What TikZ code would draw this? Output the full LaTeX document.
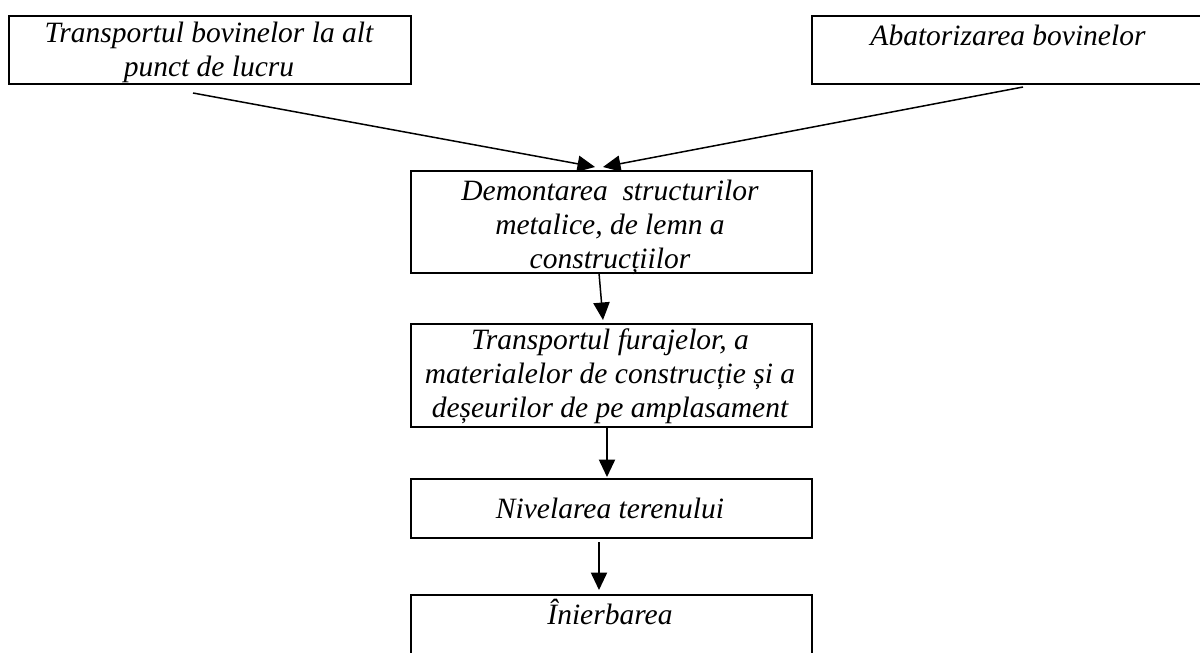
\documentclass[tikz,border=0pt]{standalone}
\usepackage{fontspec}
\setmainfont{Liberation Serif}
\usetikzlibrary{arrows.meta,calc}
\newcommand\pxu{0.4pt}
\tikzset{
  box/.style={draw, line width=0.8pt, rectangle, inner sep=0pt, anchor=north west},
  txt/.style={anchor=base, inner sep=0pt, align=center,
    font=\fontsize{11.8pt}{13.6pt}\selectfont\itshape},
  arr/.style={line width=0.6pt, -{Triangle[length=7pt,width=6.5pt]}}
}
\begin{document}
\begin{tikzpicture}[x=0.4pt,y=-0.4pt]
\useasboundingbox (0,0) rectangle (1200,653);
\clip (0,0) rectangle (1200,653);
\node[box, minimum width=402*\pxu, minimum height=68*\pxu] (b1) at (8,15) {};
\node[box, minimum width=394*\pxu, minimum height=68*\pxu] (b2) at (811,15) {};
\node[box, minimum width=401*\pxu, minimum height=102*\pxu] (b3) at (410,170) {};
\node[box, minimum width=401*\pxu, minimum height=103*\pxu] (b4) at (410,323) {};
\node[box, minimum width=401*\pxu, minimum height=59*\pxu] (b5) at (410,478) {};
\node[box, minimum width=401*\pxu, minimum height=75*\pxu] (b6) at (410,594) {};

\node[txt, anchor=north] (t1) at (209,22) {Transportul bovinelor la alt\\punct de lucru};
\node[txt, anchor=north] (t2) at (1008,25) {Abatorizarea bovinelor};
\node[txt, anchor=north] (t3) at (610,180) {Demontarea\ \ structurilor\\metalice, de lemn a\\construcțiilor};
\node[txt, anchor=north] (t4) at (610,328) {Transportul furajelor, a\\materialelor de construcție și a\\deșeurilor de pe amplasament};
\node[txt, anchor=north] (t5) at (610,498) {Nivelarea terenului};
\node[txt, anchor=north] (t6) at (610,599) {Înierbarea};

\coordinate (a1) at (193,93);
\coordinate (a1e) at (595,167);
\coordinate (a2) at (1023,87);
\coordinate (a2e) at (603,167);
\coordinate (c1) at (599,273);
\coordinate (c1e) at (603,320);
\coordinate (c2) at (607,427);
\coordinate (c2e) at (607,477);
\coordinate (c3) at (599,542);
\coordinate (c3e) at (599,590);

\draw[arr] (a1) -- (a1e);
\draw[arr] (a2) -- (a2e);
\draw[arr] (c1) -- (c1e);
\draw[arr] (c2) -- (c2e);
\draw[arr] (c3) -- (c3e);
\end{tikzpicture}
\end{document}
